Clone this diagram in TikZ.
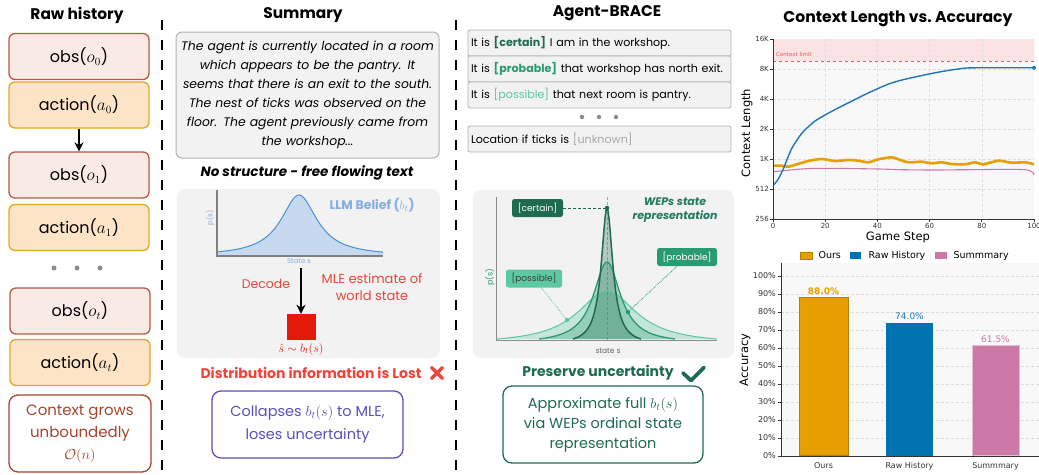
\documentclass[tikz,border=0pt]{standalone}
\usepackage{amsmath}
\usepackage{fontspec}
\setmainfont{Poppins}
\newfontfamily\plotfont{DejaVu Sans}
\usetikzlibrary{arrows.meta}

\definecolor{obsfill}{HTML}{FAEAE6}
\definecolor{obsdraw}{HTML}{B65A40}
\definecolor{actfill}{HTML}{FDE4C6}
\definecolor{actdraw}{HTML}{E2A72A}
\definecolor{ctxred}{HTML}{A8442A}
\definecolor{panelgray}{HTML}{F2F2F2}
\definecolor{boxgray}{HTML}{B3B3B3}
\definecolor{beliefline}{HTML}{4A90D9}
\definecolor{belieffill}{HTML}{C6D9EF}
\definecolor{belieftext}{HTML}{86ADE0}
\definecolor{mlered}{HTML}{E31A0A}
\definecolor{lostred}{HTML}{F0443A}
\definecolor{collapseblue}{HTML}{5A4FC0}
\definecolor{certaingreen}{HTML}{1F6B50}
\definecolor{probgreen}{HTML}{2A9A70}
\definecolor{possgreen}{HTML}{5CC9A0}
\definecolor{unknowngray}{HTML}{A8A8A8}
\definecolor{oursorange}{HTML}{E69F00}
\definecolor{oursedge}{HTML}{B97F00}
\definecolor{rawblue}{HTML}{0072B2}
\definecolor{rawline}{HTML}{1F77B4}
\definecolor{summpink}{HTML}{CC79A7}
\definecolor{plotbg}{HTML}{F8F8F8}
\definecolor{gridgray}{HTML}{DDDDDD}
\definecolor{limitfill}{HTML}{FCE3E3}
\definecolor{limitred}{HTML}{E8585A}

\tikzset{
  coltitle/.style={font=\fontsize{15.4}{17}\selectfont\bfseries},
  histbox/.style={rounded corners=6pt, line width=1.3pt, minimum width=140pt,
    minimum height=46pt, font=\fontsize{16}{19}\selectfont},
  obsbox/.style={histbox, draw=obsdraw, fill=obsfill},
  actbox/.style={histbox, draw=actdraw, fill=actfill},
  divider/.style={line width=1.6pt, dash pattern=on 10pt off 10pt},
  graydot/.style={circle, fill=black!45, inner sep=0pt, minimum size=5pt},
  notebox/.style={draw, fill=white, rounded corners=9pt, line width=1.3pt, align=center},
  wepline/.style={draw=boxgray, fill=panelgray, line width=0.9pt, rounded corners=1.5pt,
    minimum height=26pt, text width=257pt, inner sep=3pt, align=left,
    font=\fontsize{11.1}{12}\selectfont},
  weptag/.style={rounded corners=2.5pt, inner sep=2.5pt, minimum height=18pt,
    font=\fontsize{9}{10}\selectfont},
  wepdot/.style={circle, inner sep=0pt, minimum size=4.5pt},
  ticklbl/.style={font=\plotfont\fontsize{7}{8}\selectfont, text=black!80, inner sep=1pt},
  axlbl/.style={font=\plotfont\fontsize{11.5}{13}\selectfont},
}

\begin{document}
\begin{tikzpicture}[x=1pt,y=-1pt]
\useasboundingbox (0,0) rectangle (1039,474);
%% raw history
\node[coltitle] (rawtitle) at (77,15) {Raw history};
\node[obsbox] (obs0) at (79,56.5) {obs($o_0$)};
\node[actbox] (act0) at (79,105) {action($a_0$)};
\node[obsbox] (obs1) at (79,175) {obs($o_1$)};
\node[actbox] (act1) at (79,227.5) {action($a_1$)};
\node[obsbox] (obst) at (80,311) {obs($o_t$)};
\node[actbox] (actt) at (80,362.5) {action($a_t$)};
\node[notebox, draw=ctxred, text=ctxred, minimum width=142pt, minimum height=77pt,
  font=\fontsize{15}{22}\selectfont] (ctxgrow) at (80,433.5) {Context grows\\unboundedly\\$\mathcal{O}(n)$};
\draw[-{Stealth[length=9pt,width=9pt]}, line width=1.6pt] (act0) -- (obs1);
\foreach \i/\x in {1/54,2/77,3/100}
  \node[graydot] (rawdot\i) at (\x,268) {};
%%
\draw[divider] (162,20) -- (162,474);
\draw[divider] (456,20) -- (456,474);
%% summary
\node[coltitle] (sumtitle) at (303,15) {Summary};
\node[draw=boxgray, fill=panelgray, line width=1pt, rounded corners=6pt, text width=255pt,
  inner sep=4pt, minimum height=126pt, align=center,
  font=\fontsize{12.4}{19}\selectfont\itshape] (sumtext) at (307.5,95)
  {The agent is currently located in a room\\which appears to be the pantry. It\\seems that there is an exit to the south.\\The nest of ticks was observed on the\\floor. The agent previously came from\\the workshop...};
\node[font=\fontsize{13.5}{15}\selectfont\bfseries\itshape] (nostruct) at (307,173) {No structure - free flowing text};
\fill[panelgray, rounded corners=8pt] (177,189) rectangle (440,358);
\fill[belieffill] (217,256) -- plot[domain=217:383, samples=167] (\x,{256-61/(1+((\x-299)/22)^2)}) -- (383,256) -- cycle;
\draw[beliefline, line width=1pt] plot[domain=217:383, samples=167] (\x,{256-61/(1+((\x-299)/22)^2)});
\draw[black!50, line width=1.2pt] (217,190) -- (217,256) -- (383,256);
\node[rotate=90, text=belieftext, font=\fontsize{7}{8}\selectfont] (ps1) at (210,218) {p(s)};
\node[text=belieftext, font=\fontsize{7}{8}\selectfont] (states1) at (299,261) {State s};
\node[text=belieftext, font=\fontsize{12.5}{14}\selectfont\bfseries] (llmbelief) at (372,205) {LLM Belief ($b_t$)};
\node[text=lostred, font=\fontsize{12.5}{14}\selectfont] (decode) at (266,284) {Decode};
\node[text=lostred, align=center, font=\fontsize{13}{17}\selectfont] (mletext) at (372,287.5) {MLE estimate of\\world state};
\node[fill=mlered, minimum width=29pt, minimum height=26pt, inner sep=0pt] (mle) at (301,327) {};
\coordinate (decodestart) at (301,268);
\draw[-{Stealth[length=9pt,width=9pt]}, line width=1.6pt] (decodestart) -- (mle);
\node[text=mlered, font=\fontsize{11.5}{13}\selectfont] (shat) at (301,349) {$\hat{s}\sim b_t(s)$};
\node[text=lostred, font=\fontsize{14}{16}\selectfont\bfseries] (lost) at (311,373) {Distribution information is Lost};
\draw[lostred, line width=3.2pt, line cap=round] (431.5,367.5) -- (442.5,378.5) (431.5,378.5) -- (442.5,367.5);
\node[notebox, draw=collapseblue, text=collapseblue, minimum width=191pt, minimum height=67pt,
  font=\fontsize{14.5}{23}\selectfont] (collapse) at (307.5,424.5) {Collapses $b_t(s)$ to MLE,\\loses uncertainty};
%% agent-brace
\node[coltitle] (bracetitle) at (607,13) {Agent-BRACE};
\node[wepline] (wep1) at (599.5,43) {It is \textbf{\color{certaingreen}[certain]} I am in the workshop.};
\node[wepline] (wep2) at (599.5,69) {It is \textbf{\color{probgreen}[probable]} that workshop has north exit.};
\node[wepline] (wep3) at (599.5,95) {It is {\color{possgreen}[possible]} that next room is pantry.};
\foreach \i/\x in {1/582,2/599,3/616}
  \node[graydot, minimum size=4.5pt] (wepdot\i) at (\x,117) {};
\node[wepline] (wep4) at (599.5,139) {Location if ticks is {\color{unknowngray}[unknown]}};
\fill[panelgray, rounded corners=8pt] (473,190) rectangle (734,358);
\draw[black!35, densely dashed, line width=0.5pt] (607,197) -- (607,340);
\fill[possgreen, opacity=0.3] (497,339) -- plot[domain=497:717, samples=111] (\x,{339-48*(1/(1+((\x-607)/36)^2)-0.0967)/0.9033}) -- cycle;
\fill[probgreen, opacity=0.3] (539,339) -- plot[domain=539:675, samples=137] (\x,{339-77*(1/(1+((\x-607)/16.5)^2)-0.0556)/0.9444}) -- cycle;
\fill[certaingreen, opacity=0.3] (573,339) -- plot[domain=573:641, samples=69] (\x,{339-131*(1/(1+((\x-607)/7)^2)-0.0407)/0.9593}) -- cycle;
\draw[possgreen, line width=1pt] plot[domain=497:717, samples=111] (\x,{339-48*(1/(1+((\x-607)/36)^2)-0.0967)/0.9033});
\draw[probgreen, line width=1.3pt] plot[domain=539:675, samples=137] (\x,{339-77*(1/(1+((\x-607)/16.5)^2)-0.0556)/0.9444});
\draw[certaingreen, line width=1.5pt] plot[domain=573:641, samples=69] (\x,{339-131*(1/(1+((\x-607)/7)^2)-0.0407)/0.9593});
\draw[black!45, line width=1pt] (496,197) -- (496,340) -- (717,340);
\node[wepdot, fill=certaingreen] (dotcertain) at (607,208) {};
\node[wepdot, fill=probgreen] (dotprobable) at (628,312) {};
\node[wepdot, fill=possgreen] (dotpossible) at (567,320) {};
\node[weptag, fill=certaingreen, text=white, minimum width=51pt] (lblcertain) at (537.5,208) {[certain]};
\node[weptag, fill=probgreen, text=white, minimum width=60pt] (lblprobable) at (687,257) {[probable]};
\node[weptag, fill=possgreen, text=black!75, minimum width=56pt] (lblpossible) at (534,278.5) {[possible]};
\draw[certaingreen, densely dashed, line width=0.7pt] (lblcertain) -- (dotcertain);
\draw[probgreen, densely dotted, line width=0.8pt] (lblprobable) -- (dotprobable);
\draw[possgreen, densely dotted, line width=0.8pt] (lblpossible) -- (dotpossible);
\node[text=probgreen!80!black, align=center, font=\fontsize{11}{14}\selectfont\bfseries\itshape] (wepstitle) at (675,210) {WEPs state\\representation};
\node[rotate=90, text=probgreen, font=\fontsize{8}{9}\selectfont] (ps2) at (490,277) {p(s)};
\node[text=black!60, font=\fontsize{7.5}{9}\selectfont] (states2) at (608,351) {state s};
\node[text=certaingreen, font=\fontsize{14}{16}\selectfont\bfseries] (preserve) at (598,373) {Preserve uncertainty};
\draw[certaingreen, line width=3.8pt, line cap=round, line join=round] (683,373) -- (691,380.5) -- (704,367.5);
\node[notebox, draw=certaingreen, text=certaingreen, minimum width=200pt, minimum height=77pt,
  font=\fontsize{14.5}{20}\selectfont] (approx) at (603,424.5) {Approximate full $b_t(s)$\\via WEPs ordinal state\\representation};
%% context length chart
\node[font=\fontsize{15.6}{18}\selectfont\bfseries] (charttitle) at (898,19) {Context Length vs.\ Accuracy};
\fill[plotbg] (773,39) rectangle (1034,219);
\fill[limitfill] (773,39) rectangle (1034,61);
\foreach \x in {825.2,877.4,929.6,981.8}
  \draw[gridgray, densely dashed, line width=0.4pt] (\x,39) -- (\x,219);
\foreach \y in {69,99,129,159,189}
  \draw[gridgray, densely dashed, line width=0.4pt] (773,\y) -- (1034,\y);
\draw[limitred, dashed, line width=0.9pt] (773,61) -- (1034,61);
\node[anchor=west, text=limitred, font=\plotfont\fontsize{5.5}{6}\selectfont, inner sep=0pt] (limitlbl) at (776,54) {Context limit};
\draw[summpink, line width=1.1pt] plot[smooth] coordinates {(773.3,171.7) (801.7,169) (825,168.3) (878.3,169) (901.7,169.7) (935,170) (968.3,169.7) (1025,169.7) (1034,175)};
\draw[oursorange, line width=2.6pt] plot[smooth] coordinates {(773.3,165.7) (781.7,165.7) (788.3,166.7) (796.7,164.3) (808.3,161) (821.7,159) (835,161) (848.3,160) (858.3,160.7) (868.3,162.3) (878.3,159.3) (891.7,157.3) (898.3,159.3) (908.3,162.3) (921.7,161.7) (931.7,163.3) (941.7,162.3) (951.7,164) (965,164.3) (975,162.3) (983.3,164.3) (998.3,160.7) (1011.7,162.7) (1025,162.3) (1034,164.3)};
\draw[rawline, line width=1.4pt] plot[smooth] coordinates {(773.5,185) (777,181) (781,174) (784.5,166) (788,157) (792,148) (797,140) (802,133) (808,127) (815,121) (825,115) (838,108) (852,101) (865,94.5) (878,88.5) (890,83.5) (902,80) (915,77) (929,74) (945,71) (962,68.5) (975,67.8) (1034,67.8)};
\node[circle, fill=rawline, inner sep=0pt, minimum size=4pt] (rawend) at (1034,67.8) {};
\draw[black!80, line width=1pt] (773,39) -- (773,219) -- (1034,219);
\foreach \y/\t in {39/16K,69/8K,99/4K,129/2K,159/1K,189/512,219/256} {
  \draw[black!80, line width=0.7pt] (770,\y) -- (773,\y);
  \node[ticklbl, anchor=east] (yl\t) at (770,\y) {\t};
}
\foreach \x/\t in {773/0,825.2/20,877.4/40,929.6/60,981.8/80,1034/100} {
  \draw[black!80, line width=0.7pt] (\x,219) -- (\x,222);
  \node[ticklbl, anchor=north] (xl\t) at (\x,222) {\t};
}
\node[axlbl, rotate=90] (ylabel) at (747,133) {Context Length};
\node[axlbl] (xlabel) at (898,237) {Game Step};
%% accuracy chart
\fill[oursorange, draw=oursedge, line width=0.8pt] (800,252) rectangle (812,259);
\node[anchor=west, font=\plotfont\fontsize{9.5}{11}\selectfont] (legours) at (815,255.5) {Ours};
\fill[rawblue] (850,252) rectangle (861,259);
\node[anchor=west, font=\plotfont\fontsize{9.5}{11}\selectfont] (legraw) at (865,255.5) {Raw History};
\fill[summpink] (935,252) rectangle (947,259);
\node[anchor=west, font=\plotfont\fontsize{9.5}{11}\selectfont] (legsumm) at (950,255.5) {Summmary};
\fill[plotbg] (781,263) rectangle (1039,456);
\foreach \k in {1,...,10}
  \draw[gridgray, densely dashed, line width=0.4pt] (781,{456-18*\k}) -- (1039,{456-18*\k});
\node[fill=oursorange, draw=oursedge, line width=1pt, minimum width=49pt, minimum height=158.4pt,
  inner sep=0pt, anchor=south] (barours) at (823.5,456) {};
\node[fill=rawblue, minimum width=47pt, minimum height=133.2pt, inner sep=0pt, anchor=south] (barraw) at (909.5,456) {};
\node[fill=summpink, draw=summpink!50!white, line width=0.8pt, minimum width=47pt, minimum height=110.7pt,
  inner sep=0pt, anchor=south] (barsumm) at (995.5,456) {};
\node[text=oursorange, font=\plotfont\bfseries\fontsize{9}{10}\selectfont] (valours) at (823.5,291) {88.0\%};
\node[text=rawline, font=\plotfont\fontsize{9}{10}\selectfont] (valraw) at (909.5,316) {74.0\%};
\node[text=summpink, font=\plotfont\fontsize{9}{10}\selectfont] (valsumm) at (995.5,339) {61.5\%};
\draw[black!80, line width=1pt] (781,263) -- (781,456) -- (1039,456);
\foreach \k in {0,...,10} {
  \pgfmathtruncatemacro{\pct}{10*\k}
  \draw[black!80, line width=0.7pt] (778,{456-18*\k}) -- (781,{456-18*\k});
  \node[ticklbl, anchor=east, font=\plotfont\fontsize{8}{9}\selectfont] (acc\k) at (777,{456-18*\k}) {\pct\%};
}
\foreach \n/\x/\t in {ours/823.5/Ours,raw/909.5/Raw History,summ/995.5/Summmary}
  \node[ticklbl, font=\plotfont\fontsize{8}{9}\selectfont] (xb\n) at (\x,466) {\t};
\node[axlbl, rotate=90] (acclabel) at (745,360) {Accuracy};
\end{tikzpicture}
\end{document}
